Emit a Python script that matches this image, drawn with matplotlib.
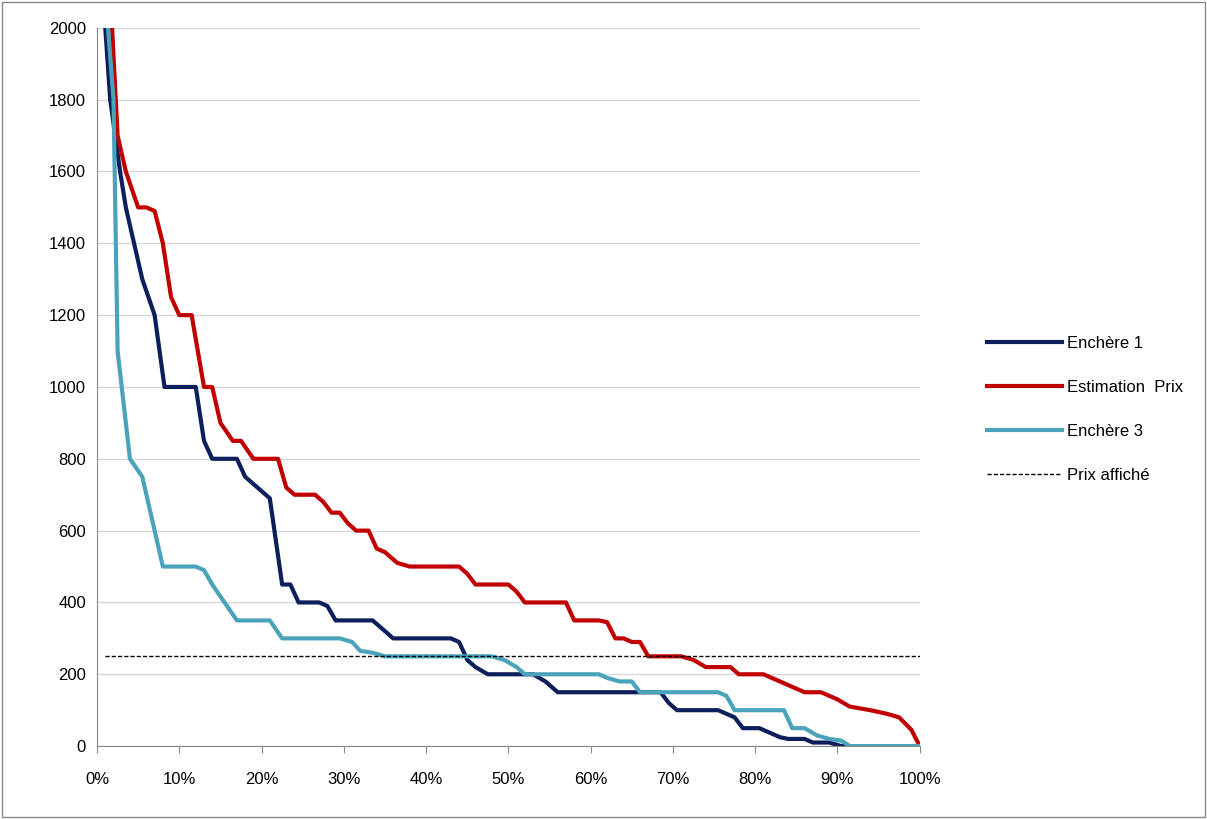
import matplotlib.pyplot as plt
from matplotlib.ticker import PercentFormatter

plt.rcParams['font.family'] = ['Liberation Sans', 'DejaVu Sans']

# Enchère 1 (x in %, value)
e1_x = [0.7, 1.6, 2.8, 3.5, 4.5, 5.5, 7, 8.2, 12, 13, 14, 17, 18, 20, 21, 22.5, 23.5, 24.5, 27, 28, 29,
        33.5, 35, 36, 43, 44, 45, 46, 47.5, 53, 54.5, 56, 68.5, 69.5, 70.5, 75.5, 76.5, 77.5, 78.5,
        80.5, 81.5, 83, 84, 86, 87, 89, 90.5, 100]
e1_y = [2100, 1800, 1600, 1500, 1400, 1300, 1200, 1000, 1000, 850, 800, 800, 750, 710, 690, 450, 450, 400,
        400, 390, 350, 350, 320, 300, 300, 290, 240, 220, 200, 200, 180, 150, 150, 120, 100, 100, 90, 80,
        50, 50, 40, 25, 20, 20, 10, 10, 0, 0]

# Estimation Prix
ep_x = [1.6, 2.5, 3.5, 5, 6, 7, 8, 9, 10, 11.5, 13, 14, 15, 16.5, 17.5, 19, 22, 23, 24, 26.5, 27.5,
        28.5, 29.5, 30.5, 31.5, 33, 34, 35, 36.5, 38, 44, 45, 46, 50, 51, 52, 57, 58, 61, 62, 63, 64,
        65, 66, 67, 71, 72.5, 74, 77, 78, 81, 82, 83, 84, 86, 88, 89, 90, 91.5, 94, 96, 97.5, 99, 100]
ep_y = [2100, 1700, 1600, 1500, 1500, 1490, 1400, 1250, 1200, 1200, 1000, 1000, 900, 850, 850, 800, 800,
        720, 700, 700, 680, 650, 650, 620, 600, 600, 550, 540, 510, 500, 500, 480, 450, 450, 430, 400,
        400, 350, 350, 345, 300, 300, 290, 290, 250, 250, 240, 220, 220, 200, 200, 190, 180, 170, 150,
        150, 140, 130, 110, 100, 90, 80, 45, 0]

# Enchère 3
e3_x = [1, 2, 2.5, 4, 5.5, 7, 8, 12, 13, 14, 15.5, 17, 21, 22.5, 29.5, 31, 32, 33.5, 35, 48, 49.5, 51,
        52, 61, 62, 63.5, 65, 66, 75.5, 76.5, 77.5, 83.5, 84.5, 86, 87.5, 89, 90.5, 91.5, 100]
e3_y = [2100, 1800, 1100, 800, 750, 600, 500, 500, 490, 450, 400, 350, 350, 300, 300, 290, 265, 260, 250,
        250, 240, 220, 200, 200, 190, 180, 180, 150, 150, 140, 100, 100, 50, 50, 30, 20, 15, 0, 0]

prix_affiche = 250
prix_x = [1, 100]

fig = plt.figure(figsize=(12.07, 8.19), dpi=100)
ax = fig.add_axes([0.0804, 0.089, 0.6816, 0.877])

ax.plot(e1_x, e1_y, color="#0c1f5c", lw=3, label="Enchère 1")
ax.plot(ep_x, ep_y, color="#c00000", lw=3, label="Estimation  Prix")
ax.plot(e3_x, e3_y, color="#4aa3bb", lw=3, label="Enchère 3")
ax.plot(prix_x, [prix_affiche] * 2, color="black", lw=1, ls=(0, (3, 1.5)), label="Prix affiché")

ax.set_xlim(0, 100)
ax.set_ylim(0, 2000)
ax.set_yticks(range(0, 2001, 200))
ax.set_xticks(range(0, 101, 10))
ax.xaxis.set_major_formatter(PercentFormatter(decimals=0))
ax.grid(axis="y", color="#d9d9d9", lw=1)
ax.set_axisbelow(True)
for s in ["top", "right"]:
    ax.spines[s].set_visible(False)
for s in ["left", "bottom"]:
    ax.spines[s].set_color("#888888")
ax.tick_params(axis="y", length=0, labelsize=12, pad=8)
ax.tick_params(axis="x", length=5, color="#888888", labelsize=12, pad=14)

fig.legend(loc="center left", bbox_to_anchor=(0.805, 0.5), frameon=False, fontsize=12,
           handlelength=4.5, labelspacing=1.75, handletextpad=0.3)
fig.patches.append(plt.Rectangle((0.002, 0.002), 0.996, 0.996, transform=fig.transFigure,
                                 fill=False, edgecolor="#888888", lw=1))
fig.savefig("out.png")
